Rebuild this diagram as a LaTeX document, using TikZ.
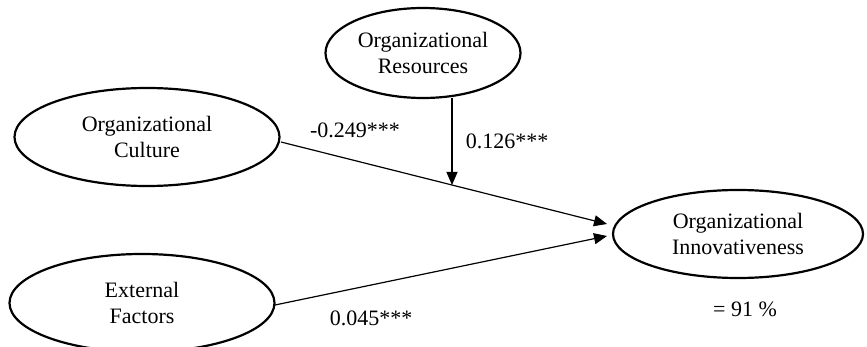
\documentclass[tikz,border=0pt]{standalone}
\usepackage{fontspec}
\setmainfont{Liberation Serif}
\usetikzlibrary{shapes.geometric,arrows.meta}
\begin{document}
\begin{tikzpicture}[x=1pt,y=-1pt,
  oval/.style={ellipse,draw,line width=2.2pt,inner sep=0pt,align=center,
    font=\fontsize{22}{25.5}\selectfont},
  conn/.style={line width=1.2pt,-{Triangle[length=13pt,width=11pt]}},
  lbl/.style={font=\fontsize{22}{25}\selectfont,inner sep=0pt}]
\useasboundingbox (0,0) rectangle (867,347);
\node[oval,minimum width=195pt,minimum height=90pt] (res) at (423,53) {Organizational\\Resources};
\node[oval,minimum width=265pt,minimum height=98pt] (cult) at (147,137) {Organizational\\Culture};
\node[oval,minimum width=265pt,minimum height=98pt] (ext) at (142,303) {External\\Factors};
\node[oval,minimum width=250pt,minimum height=88pt] (inn) at (738,234) {Organizational\\Innovativeness};
\coordinate (tipA) at (607,224);
\coordinate (tipB) at (607,236);
\coordinate (cs) at (281,142);
\coordinate (es) at (275,305);
\coordinate (rs) at (452,98);
\coordinate (hit) at (452,185);
\draw[conn] (cs) -- (tipA);
\draw[conn] (es) -- (tipB);
\draw[conn] (rs) -- (hit);
\node[lbl] (l1) at (355,130) {-0.249***};
\node[lbl] (l2) at (507,141) {0.126***};
\node[lbl] (l3) at (371,318) {0.045***};
\node[lbl] (r2) at (745,309) {= 91 \%};
\end{tikzpicture}
\end{document}
